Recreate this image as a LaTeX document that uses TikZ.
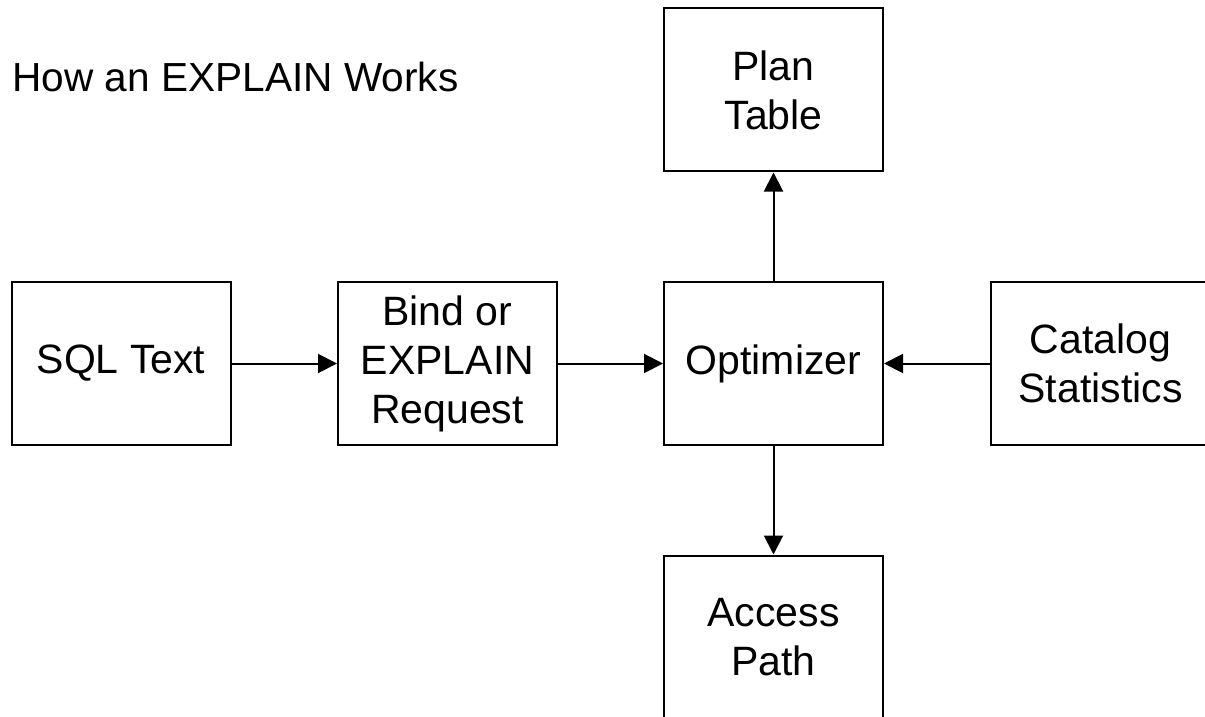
\documentclass[tikz,border=0pt]{standalone}
\usepackage{fontspec}
\setmainfont{Liberation Sans}
\usetikzlibrary{arrows.meta}
\tikzset{
  stagebox/.style={draw, line width=1pt, minimum width=109.5pt, minimum height=81.5pt,
    align=center, inner sep=0pt, font=\fontsize{20.5}{24.5}\selectfont},
  flow/.style={line width=1pt, -{Triangle[length=9.5pt,width=9.5pt]}}
}
\begin{document}
\begin{tikzpicture}[x=0.5pt, y=-0.5pt]
    \useasboundingbox (0,0) rectangle (1205,717);
    % 1. Tiêu đề
    \node[anchor=base west, inner sep=0pt, font=\fontsize{20.3}{24.5}\selectfont]
        (title) at (12,92) {How an EXPLAIN Works};

    % 2. Các hộp
    \node[stagebox] (sql) at (121,363.5) {SQL Text};
    \node[stagebox] (bind) at (447.5,363.5) {Bind or\\EXPLAIN\\Request};
    \node[stagebox] (opt) at (773.5,363.5) {Optimizer};
    \node[stagebox] (cat) at (1100.5,363.5) {Catalog\\Statistics};
    \node[stagebox] (plan) at (773.5,90) {Plan\\Table};
    \node[stagebox] (access) at (773.5,637) {Access\\Path};

    % 3. Mũi tên
    \draw[flow] (sql) -- (bind);
    \draw[flow] (bind) -- (opt);
    \draw[flow] (cat) -- (opt);
    \draw[flow] (opt) -- (plan);
    \draw[flow] (opt) -- (access);
\end{tikzpicture}
\end{document}
